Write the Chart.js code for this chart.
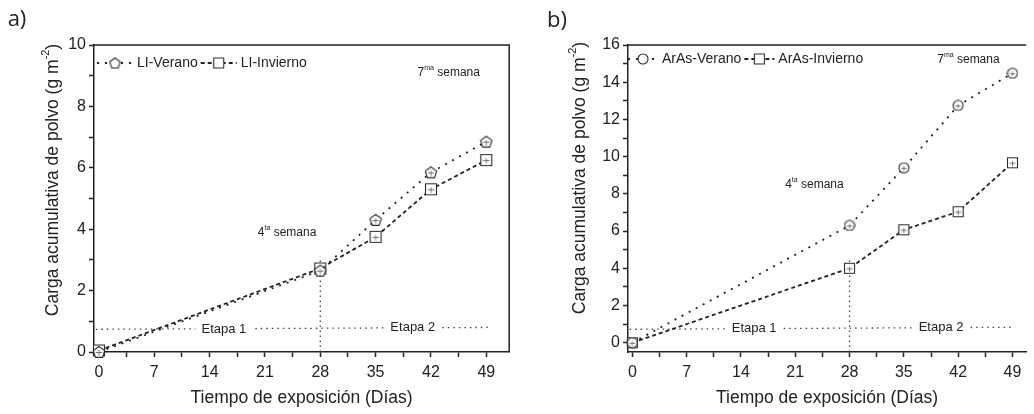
<!DOCTYPE html>
<html>
<head>
  <meta charset="UTF-8" />
  <title>Carga acumulativa de polvo</title>
  <script src="https://cdn.jsdelivr.net/npm/chart.js@4.4.1/dist/chart.umd.min.js"></script>
  <style>
    body { margin: 0; background: #fff; }
    .panel { position: absolute; top: 0; width: 517px; height: 414px; }
  </style>
</head>
<body>
  <div class="panel" style="left:0"><canvas id="chartA" width="517" height="414"></canvas></div>
  <div class="panel" style="left:517px"><canvas id="chartB" width="517" height="414"></canvas></div>
  <script>
    // data
    const days = [0, 28, 35, 42, 49];
    const liVerano = [0, 2.65, 4.3, 5.85, 6.85];
    const liInvierno = [0.05, 2.72, 3.75, 5.3, 6.25];
    const arasVerano = [0, 6.3, 9.4, 12.75, 14.48];
    const arasInvierno = [0, 4.0, 6.07, 7.04, 9.67];

    const xTicks = [0, 7, 14, 21, 28, 35, 42, 49];
    const yTicksA = [0, 2, 4, 6, 8, 10];
    const yTicksB = [0, 2, 4, 6, 8, 10, 12, 14, 16];

    // stage separator lines (x from, x to / y from, y to)
    const etapaXA = [-0.4, 49.6];
    const etapaYA = [0.74, 0.80];
    const etapaXB = [-0.35, 49.2];
    const etapaYB = [0.72, 0.83];
    const semanaX = [28, 28];
    const semanaYA = [0, 3.1];
    const semanaYB = [-0.5, 4.6];

    const INK = '#222';
    const FONT = '"Liberation Sans", Arial, sans-serif';

    function pts(xs, ys) {
      return xs.map((x, i) => ({ x: x, y: ys[i] }));
    }

    // minor ticks halfway between labelled ones
    function withMinor(major) {
      const out = [];
      major.forEach((v, i) => {
        out.push(v);
        if (i < major.length - 1) out.push((v + major[i + 1]) / 2);
      });
      return out;
    }

    function marker(shape, size, errBar) {
      const c = document.createElement('canvas');
      c.width = size + 2; c.height = size + 2;
      const g = c.getContext('2d');
      const cx = c.width / 2, cy = c.height / 2, r = size / 2;
      g.fillStyle = '#fff';
      g.strokeStyle = '#2a2a2a';
      g.lineWidth = 1.1;
      g.beginPath();
      if (shape === 'pentagon') {
        for (let i = 0; i < 5; i++) {
          const a = -Math.PI / 2 + i * 2 * Math.PI / 5;
          const px = cx + r * Math.cos(a), py = cy + 0.5 + r * Math.sin(a);
          i ? g.lineTo(px, py) : g.moveTo(px, py);
        }
        g.closePath();
      } else if (shape === 'circle') {
        g.arc(cx, cy, r, 0, Math.PI * 2);
      } else {
        g.rect(cx - r + 0.5, cy - r + 0.5, size - 1, size - 1);
      }
      g.fill();
      g.stroke();
      if (errBar) {
        // tiny error bar inside the symbol
        g.lineWidth = 0.8;
        g.strokeStyle = '#555';
        g.beginPath();
        g.moveTo(cx - r * 0.55, cy + 0.5);
        g.lineTo(cx + r * 0.55, cy + 0.5);
        g.moveTo(cx, cy - r * 0.3);
        g.lineTo(cx, cy + r * 0.6);
        g.stroke();
      }
      return c;
    }

    const pentagonMk = marker('pentagon', 12, true);
    const circleMk = marker('circle', 10, true);
    const squareMkA = marker('square', 12, true);
    const squareMkB = marker('square', 11, true);
    const pentagonLeg = marker('pentagon', 11, false);
    const circleLeg = marker('circle', 10, false);
    const squareLeg = marker('square', 11, false);

    // black frame on top / right of plot area
    const framePlugin = {
      id: 'frame',
      afterDraw(chart, args, opts) {
        const a = chart.chartArea, ctx = chart.ctx;
        ctx.save();
        ctx.strokeStyle = INK;
        ctx.lineWidth = 1.5;
        ctx.beginPath();
        ctx.moveTo(a.left, a.top);
        ctx.lineTo(a.right, a.top);
        if (opts.right) ctx.lineTo(a.right, a.bottom);
        ctx.stroke();
        ctx.restore();
      }
    };

    function drawSup(ctx, x, y, base, sup, rest, size) {
      ctx.font = size + 'px ' + FONT;
      ctx.fillText(base, x, y);
      x += ctx.measureText(base).width;
      ctx.font = Math.round(size * 0.62) + 'px ' + FONT;
      ctx.fillText(sup, x, y - size * 0.38);
      x += ctx.measureText(sup).width;
      ctx.font = size + 'px ' + FONT;
      ctx.fillText(rest, x, y);
      return x + ctx.measureText(rest).width;
    }

    function supWidth(ctx, base, sup, rest, size) {
      ctx.font = size + 'px ' + FONT;
      let w = ctx.measureText(base).width + ctx.measureText(rest).width;
      ctx.font = Math.round(size * 0.62) + 'px ' + FONT;
      return w + ctx.measureText(sup).width;
    }

    // panel letter + y title with superscript
    const labelsPlugin = {
      id: 'labels',
      afterDraw(chart, args, opts) {
        const ctx = chart.ctx;
        ctx.save();
        ctx.fillStyle = INK;
        ctx.textBaseline = 'middle';
        ctx.textAlign = 'center';
        ctx.font = '22px "Open Sans", sans-serif';
        ctx.fillText(opts.letter, opts.letterX, opts.letterY);
        ctx.textAlign = 'left';
        ctx.translate(opts.titleX, opts.titleY);
        ctx.rotate(-Math.PI / 2);
        const w = supWidth(ctx, 'Carga acumulativa de polvo (g m', '-2', ')', 17.5);
        drawSup(ctx, -w / 2, 0, 'Carga acumulativa de polvo (g m', '-2', ')', 17.5);
        ctx.restore();
      }
    };

    // notes placed in data units
    const notesPlugin = {
      id: 'notes',
      afterDatasetsDraw(chart, args, opts) {
        const ctx = chart.ctx, xs = chart.scales.x, ys = chart.scales.y;
        ctx.save();
        ctx.fillStyle = INK;
        ctx.textBaseline = 'middle';
        opts.items.forEach(n => {
          const px = xs.getPixelForValue(n.x), py = ys.getPixelForValue(n.y);
          if (n.sup) {
            drawSup(ctx, px, py, n.text, n.sup, n.rest, 12);
          } else {
            ctx.font = '13px ' + FONT;
            const w = ctx.measureText(n.text).width;
            ctx.fillStyle = '#fff';
            ctx.fillRect(px - w / 2 - 6, py - 7, w + 12, 14);
            ctx.fillStyle = INK;
            ctx.textAlign = 'center';
            ctx.fillText(n.text, px, py);
            ctx.textAlign = 'left';
          }
        });
        ctx.restore();
      }
    };

    // legend drawn as line sample + marker + name, in one row
    const rowLegendPlugin = {
      id: 'rowLegend',
      afterDraw(chart, args, opts) {
        const ctx = chart.ctx;
        let x = chart.chartArea.left + opts.start;
        const y = opts.y;
        ctx.save();
        ctx.font = '14px ' + FONT;
        ctx.textBaseline = 'middle';
        chart.data.datasets.forEach(ds => {
          if (!ds.legendMk) return;
          ctx.strokeStyle = ds.borderColor;
          ctx.lineWidth = ds.borderWidth;
          ctx.setLineDash(ds.borderDash);
          ctx.beginPath();
          ctx.moveTo(x, y);
          ctx.lineTo(x + opts.seg, y);
          ctx.stroke();
          ctx.setLineDash([]);
          const mk = ds.legendMk;
          ctx.drawImage(mk, x + opts.seg / 2 - mk.width / 2, y - mk.height / 2);
          x += opts.seg + 4;
          ctx.fillStyle = INK;
          ctx.fillText(ds.label, x, y);
          x += ctx.measureText(ds.label).width + 3;
        });
        ctx.restore();
      }
    };

    function refLine(xs, ys, dash) {
      return {
        data: pts(xs, ys),
        borderColor: '#444',
        borderWidth: 1.3,
        borderDash: dash,
        pointRadius: 0,
        fill: false
      };
    }

    function buildChart(id, o) {
      const axisFont = { family: FONT, size: 16 };
      return new Chart(document.getElementById(id), {
        type: 'line',
        data: {
          datasets: [
            {
              label: o.names[0],
              data: pts(days, o.verano),
              borderColor: INK,
              borderWidth: 1.8,
              borderDash: [2, 6],
              pointStyle: o.veranoMk,
              pointRadius: 6,
              clip: false,
              legendMk: o.veranoLeg
            },
            {
              label: o.names[1],
              data: pts(days, o.invierno),
              borderColor: INK,
              borderWidth: 1.8,
              borderDash: [4, 3],
              pointStyle: o.squareMk,
              pointRadius: 6,
              clip: false,
              legendMk: squareLeg
            },
            refLine(o.etapaX, o.etapaY, [1.5, 4]),
            refLine(semanaX, o.semanaY, [1.5, 3.5])
          ]
        },
        options: {
          responsive: false,
          animation: false,
          layout: { padding: { left: 0, top: 45, right: o.padRight, bottom: 0 } },
          plugins: {
            legend: { display: false },
            tooltip: { enabled: false },
            frame: { right: o.frameRight },
            labels: o.labels,
            notes: { items: o.notes },
            rowLegend: o.legend
          },
          scales: {
            x: {
              type: 'linear',
              min: o.xMin,
              max: o.xMax,
              afterFit: s => { s.height = 62; },
              afterBuildTicks: s => { s.ticks = withMinor(xTicks).map(v => ({ value: v })); },
              ticks: {
                autoSkip: false,
                maxRotation: 0,
                padding: 6,
                color: INK,
                font: axisFont,
                callback: v => xTicks.includes(v) ? String(v) : ''
              },
              grid: { drawOnChartArea: false, tickLength: 5, tickColor: INK, tickWidth: 1.5 },
              border: { color: INK, width: 1.5 },
              title: {
                display: true,
                text: 'Tiempo de exposición (Días)',
                color: INK,
                font: { family: FONT, size: 17.5 },
                padding: { top: 0, bottom: 5 }
              }
            },
            y: {
              min: o.yMin,
              max: o.yMax,
              afterFit: s => { s.width = o.yWidth; },
              afterBuildTicks: s => { s.ticks = withMinor(o.yTicks).map(v => ({ value: v })); },
              ticks: {
                autoSkip: false,
                padding: 3,
                color: INK,
                font: axisFont,
                callback: v => o.yTicks.includes(v) ? String(v) : ''
              },
              grid: { drawOnChartArea: false, tickLength: 5, tickColor: INK, tickWidth: 1.5 },
              border: { color: INK, width: 1.5 }
            }
          }
        },
        plugins: [framePlugin, labelsPlugin, notesPlugin, rowLegendPlugin]
      });
    }

    buildChart('chartA', {
      names: ['LI-Verano', 'LI-Invierno'],
      verano: liVerano,
      invierno: liInvierno,
      veranoMk: pentagonMk,
      veranoLeg: pentagonLeg,
      squareMk: squareMkA,
      etapaX: etapaXA,
      etapaY: etapaYA,
      semanaY: semanaYA,
      xMin: -0.63, xMax: 51.9,
      yMin: 0, yMax: 10,
      yTicks: yTicksA,
      yWidth: 94,
      padRight: 7,
      frameRight: true,
      labels: { letter: 'a)', letterX: 17, letterY: 20, titleX: 53, titleY: 180 },
      legend: { start: 3, seg: 36, y: 63 },
      notes: [
        { text: 'Etapa 1', x: 15.8, y: 0.75 },
        { text: 'Etapa 2', x: 39.7, y: 0.79 },
        { text: '4', sup: 'ta', rest: ' semana', x: 20.1, y: 3.9 },
        { text: '7', sup: 'ma', rest: ' semana', x: 40.3, y: 9.1 }
      ]
    });

    buildChart('chartB', {
      names: ['ArAs-Verano', 'ArAs-Invierno'],
      verano: arasVerano,
      invierno: arasInvierno,
      veranoMk: circleMk,
      veranoLeg: circleLeg,
      squareMk: squareMkB,
      etapaX: etapaXB,
      etapaY: etapaYB,
      semanaY: semanaYB,
      xMin: -0.56, xMax: 50.77,
      yMin: -0.5, yMax: 16,
      yTicks: yTicksB,
      yWidth: 111,
      padRight: 0,
      frameRight: false,
      labels: { letter: 'b)', letterX: 40, letterY: 21, titleX: 63, titleY: 178 },
      legend: { start: 0, seg: 30, y: 59 },
      notes: [
        { text: 'Etapa 1', x: 15.7, y: 0.75 },
        { text: 'Etapa 2', x: 39.8, y: 0.82 },
        { text: '4', sup: 'ta', rest: ' semana', x: 19.7, y: 8.5 },
        { text: '7', sup: 'ma', rest: ' semana', x: 39.3, y: 15.2 }
      ]
    });
  </script>
</body>
</html>
